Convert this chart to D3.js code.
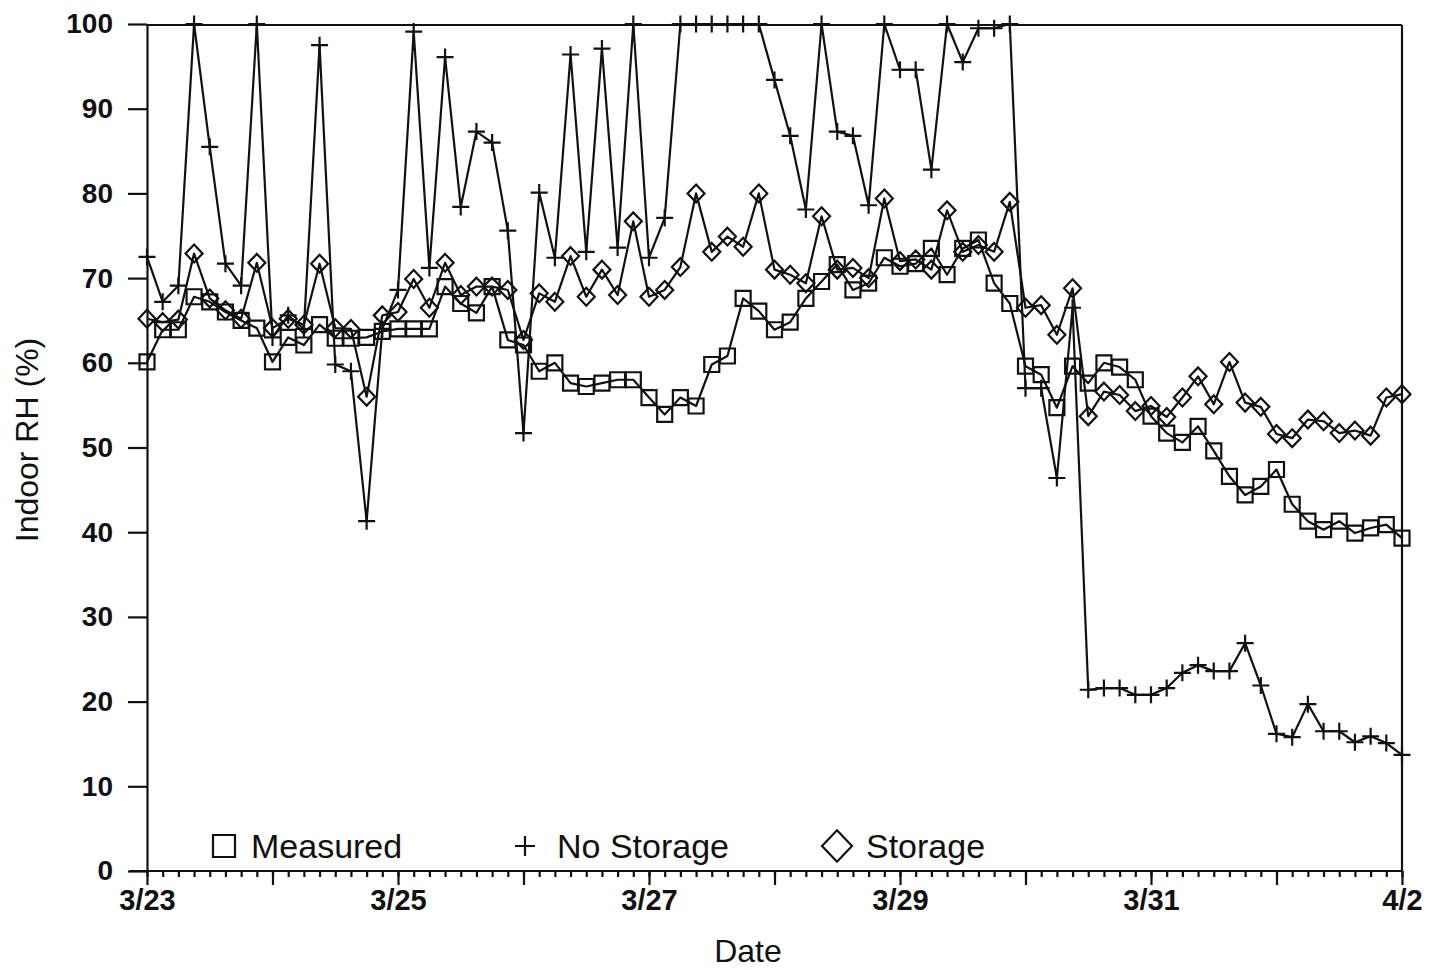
<!DOCTYPE html>
<html><head><meta charset="utf-8">
<script src="https://cdn.jsdelivr.net/npm/d3@7"></script>
<style>
body{margin:0;background:#fff}
svg{display:block;background:#fff}
text{font-family:"Liberation Sans",Arial,Helvetica,sans-serif;fill:#111}
</style>
</head><body>
<svg id="c" width="1429" height="970"></svg>
<script>
// ---- data (3-hour readings, 3/23 00:00 to 4/2 00:00) ----
const measured = [60.1,63.9,63.9,67.8,67.2,66.0,65.0,64.1,60.1,63.0,62.1,64.5,62.9,62.9,63.0,63.7,
 64.0,64.0,64.0,69.0,67.0,65.9,69.0,62.7,62.1,59.0,60.0,57.6,57.2,57.6,58.0,58.0,
 55.9,53.9,55.9,54.9,59.8,60.8,67.6,66.1,63.9,64.8,67.6,69.6,71.6,68.6,69.4,72.4,
 71.4,71.7,73.5,70.4,73.5,74.5,69.4,67.0,59.6,58.6,54.7,59.6,57.6,60.0,59.5,58.0,
 53.7,51.7,50.6,52.5,49.6,46.6,44.4,45.4,47.4,43.3,41.3,40.3,41.3,39.9,40.5,40.9,39.3];
const noStorage = [72.5,67.2,69.1,100,85.5,71.7,69.1,100,63.0,65.6,64.0,97.5,59.8,59.0,41.3,64.0,
 68.6,99.1,71.2,96.1,78.4,87.3,86.0,75.6,51.7,80.1,72.4,96.4,73.1,97.1,73.6,100,
 72.4,77.1,100,100,100,100,100,100,93.4,86.8,78.1,100,87.3,86.8,78.6,100,
 94.6,94.6,82.8,100,95.5,99.5,99.5,100,57.0,57.0,46.4,66.5,21.4,21.6,21.6,20.8,
 20.8,21.6,23.4,24.3,23.6,23.6,26.9,21.9,16.2,15.8,19.7,16.5,16.5,15.2,15.9,15.1,13.7];
const storage = [65.2,64.8,65.1,72.9,67.6,66.2,65.2,71.8,64.1,65.2,64.5,71.7,64.1,64.0,56.0,65.6,
 66.0,69.9,66.5,71.8,68.0,69.0,69.0,68.6,62.7,68.2,67.2,72.6,67.8,71.0,68.0,76.7,
 67.8,68.6,71.3,80.0,73.1,74.9,73.7,80.0,71.0,70.4,69.4,77.3,71.0,71.2,70.0,79.4,
 72.0,72.2,71.0,78.0,73.1,73.9,73.1,79.0,66.5,66.8,63.3,68.8,53.7,56.6,56.2,54.3,
 54.9,53.6,55.9,58.4,55.1,60.1,55.3,54.8,51.6,51.1,53.3,53.1,51.7,52.0,51.4,55.9,56.3];
const stepHours = 3;
const dateLabels = ["3/23","3/25","3/27","3/29","3/31","4/2"];
const yTicks = [0,10,20,30,40,50,60,70,80,90,100];
const seriesNames = ["Measured","No Storage","Storage"];

// ---- layout ----
const svg = d3.select("#c");
const L = 147, R = 1402, T = 24, B = 871;
const totalHours = (measured.length - 1) * stepHours;
const x = d3.scaleLinear().domain([0, totalHours]).range([L, R]);
const y = d3.scaleLinear().domain([0, 100]).range([B, T]);
const ink = "#111";
const sw = 2.2;

// frame: top and right
svg.append("line").attr("x1", L).attr("x2", R).attr("y1", y(100)+1).attr("y2", y(100)+1)
  .attr("stroke", ink).attr("stroke-width", sw);
svg.append("line").attr("x1", R).attr("x2", R).attr("y1", y(100)+1).attr("y2", B)
  .attr("stroke", ink).attr("stroke-width", sw);

// y axis
const yAxis = d3.axisLeft(y).tickValues(yTicks).tickSize(19).tickPadding(15).tickSizeOuter(0);
const gy = svg.append("g").attr("transform", `translate(${L},0)`).call(yAxis);
gy.selectAll("path,line").attr("stroke", ink).attr("stroke-width", sw);
gy.selectAll("text").attr("font-size", 28).attr("font-weight", "bold")
  .attr("font-family", '"Liberation Sans",Arial,sans-serif').attr("fill", ink);

// x axis: minor ticks every 3 h, major each day
const minorVals = d3.range(0, totalHours + 1, stepHours);
const gxMinor = svg.append("g").attr("transform", `translate(0,${B})`)
  .call(d3.axisBottom(x).tickValues(minorVals).tickSize(6).tickFormat("").tickSizeOuter(0));
gxMinor.select("path").remove();
gxMinor.selectAll("line").attr("stroke", ink).attr("stroke-width", sw);
const majorVals = d3.range(0, totalHours + 1, 24);
const gxMajor = svg.append("g").attr("transform", `translate(0,${B})`)
  .call(d3.axisBottom(x).tickValues(majorVals).tickSize(14).tickPadding(4).tickSizeOuter(0)
    .tickFormat((d) => (d / 24) % 2 === 0 ? dateLabels[d / 48] : ""));
gxMajor.select("path").remove();
gxMajor.selectAll("line").attr("stroke", ink).attr("stroke-width", sw);
gxMajor.selectAll("text").attr("font-size", 29).attr("font-weight", "bold")
  .attr("font-family", '"Liberation Sans",Arial,sans-serif').attr("fill", ink);
svg.append("line").attr("x1", 130).attr("x2", R).attr("y1", B).attr("y2", B)
  .attr("stroke", ink).attr("stroke-width", sw);

// titles
svg.append("text").attr("x", 748).attr("y", 962).attr("text-anchor", "middle")
  .attr("font-size", 32).text("Date");
svg.append("text").attr("transform", "translate(38,440) rotate(-90)").attr("text-anchor", "middle")
  .attr("font-size", 32).text("Indoor RH (%)");

// marker shapes
function markerPath(kind, s) {
  if (kind === "square") return `M${-s},${-s}H${s}V${s}H${-s}Z`;
  if (kind === "plus") return `M${-s},0H${s}M0,${-s}V${s}`;
  return `M0,${-s*1.05}L${s},0L0,${s*1.05}L${-s},0Z`;
}

const series = [
  {name: seriesNames[0], values: measured, kind: "square", size: 7.5},
  {name: seriesNames[1], values: noStorage, kind: "plus", size: 8.5},
  {name: seriesNames[2], values: storage, kind: "diamond", size: 8.5}
];

const line = d3.line().x((d, i) => x(i * stepHours)).y((d) => y(d));
series.forEach((s) => {
  const g = svg.append("g");
  g.append("path").attr("d", line(s.values)).attr("fill", "none").attr("stroke", ink)
    .attr("stroke-width", sw).attr("stroke-linejoin", "round");
  g.selectAll("path.m").data(s.values).join("path").attr("class", "m")
    .attr("transform", (d, i) => `translate(${x(i * stepHours)},${y(d)})`)
    .attr("d", markerPath(s.kind, s.size)).attr("fill", "none").attr("stroke", ink).attr("stroke-width", sw);
});

// legend
const legendItems = [
  {name: seriesNames[0], kind: "square", mx: 224, size: 11, tx: 251},
  {name: seriesNames[1], kind: "plus", mx: 525, size: 10, tx: 557},
  {name: seriesNames[2], kind: "diamond", mx: 837, size: 15, tx: 866}
];
const lg = svg.append("g");
legendItems.forEach((it) => {
  lg.append("path").attr("transform", `translate(${it.mx},846)`).attr("d", markerPath(it.kind, it.size))
    .attr("fill", "none").attr("stroke", ink).attr("stroke-width", sw);
  lg.append("text").attr("x", it.tx).attr("y", 858).attr("font-size", 34).text(it.name);
});
</script>
</body></html>
